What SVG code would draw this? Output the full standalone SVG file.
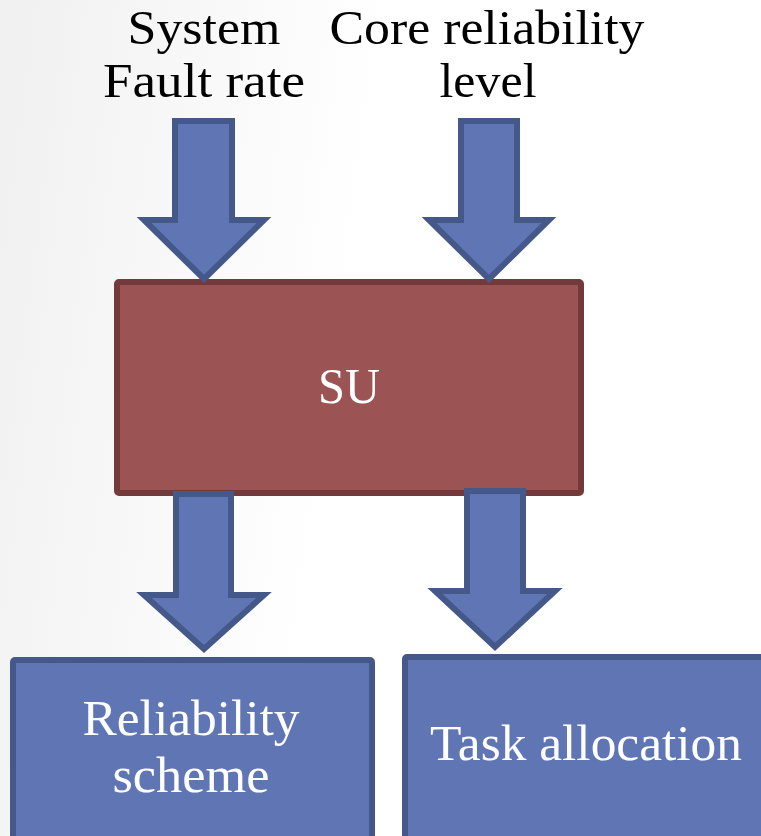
<svg xmlns="http://www.w3.org/2000/svg" width="761" height="836" viewBox="0 0 761 836">
  <defs>
    <linearGradient id="bg" x1="0" y1="0" x2="1" y2="0.15">
      <stop offset="0" stop-color="#f0f0f0"/>
      <stop offset="0.5" stop-color="#ffffff"/>
      <stop offset="1" stop-color="#ffffff"/>
    </linearGradient>
  </defs>
  <style>
    .lbl { font-family: "Liberation Serif", "Times New Roman", serif; font-size: 50px; text-anchor: middle; }
    .top { font-size: 48px; }
    .dark { fill: #000000; }
    .light { fill: #ffffff; }
    .blue { fill: #6076b4; stroke: #44588a; stroke-width: 6; stroke-linejoin: miter; }
    .red { fill: #9b5353; stroke: #733a3b; stroke-width: 6; }
  </style>

  <rect x="0" y="0" width="761" height="836" fill="url(#bg)"/>

  <!-- input labels -->
  <g id="label-fault-rate">
    <text class="lbl top dark" x="204" y="44" textLength="153" lengthAdjust="spacingAndGlyphs">System</text>
    <text class="lbl top dark" x="204" y="97" textLength="202" lengthAdjust="spacingAndGlyphs">Fault rate</text>
  </g>
  <g id="label-core-reliability">
    <text class="lbl top dark" x="487" y="44" textLength="315" lengthAdjust="spacingAndGlyphs">Core reliability</text>
    <text class="lbl top dark" x="488" y="97" textLength="97" lengthAdjust="spacingAndGlyphs">level</text>
  </g>

  <!-- processing unit -->
  <g id="node-su">
    <rect class="red" x="117" y="282" width="464" height="211" rx="2"/>
    <text class="lbl light" x="349" y="403" textLength="62" lengthAdjust="spacingAndGlyphs">SU</text>
  </g>

  <!-- outputs -->
  <g id="node-reliability-scheme">
    <rect class="blue" x="13" y="660" width="359" height="200" rx="2"/>
    <text class="lbl light" x="191" y="735" textLength="217" lengthAdjust="spacingAndGlyphs">Reliability</text>
    <text class="lbl light" x="191" y="792" textLength="157" lengthAdjust="spacingAndGlyphs">scheme</text>
  </g>
  <g id="node-task-allocation">
    <rect class="blue" x="405" y="657" width="400" height="200" rx="2"/>
    <text class="lbl light" x="586" y="760" textLength="312" lengthAdjust="spacingAndGlyphs">Task allocation</text>
  </g>

  <!-- block arrows -->
  <g id="connectors">
    <path class="blue" d="M175,121 H232 V220 H264 L204,279 L144,220 H175 Z"/>
    <path class="blue" d="M461,121 H517 V220 H549 L489,279 L429,220 H461 Z"/>
    <path class="blue" d="M176,494 H231 V595 H264 L204,649 L144,595 H176 Z"/>
    <path class="blue" d="M467,491 H523 V591 H555 L495,647 L435,591 H467 Z"/>
  </g>
</svg>
